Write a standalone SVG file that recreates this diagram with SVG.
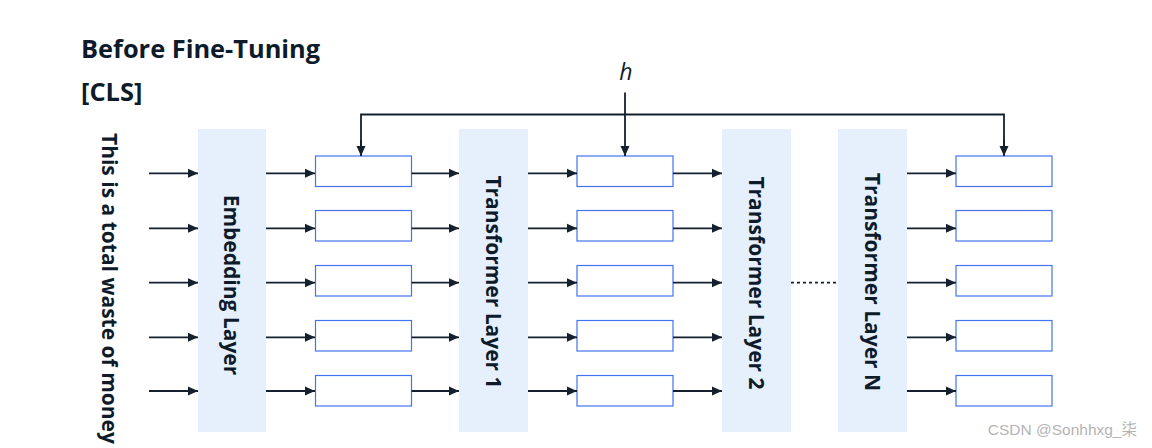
<svg xmlns="http://www.w3.org/2000/svg" width="1152" height="448" viewBox="0 0 1152 448">
<style>
.t{font-family:"Open Sans","Liberation Sans",sans-serif;font-weight:bold;fill:#0d1b2a}
.lbl{font-size:21px}
.layer{fill:#e6f0fd}
.box{fill:#fff;stroke:#4373f2;stroke-width:1.2}
.ln{stroke:#15202e;stroke-width:1.8;fill:none}
.dot{stroke:#15202e;stroke-width:1.8;stroke-dasharray:3 3;fill:none}
</style>
<defs>
<marker id="ah" markerUnits="userSpaceOnUse" markerWidth="10" markerHeight="10" viewBox="0 0 10 10" refX="10" refY="5" orient="auto"><path d="M0,0.5 L10,5 L0,9.5 z" fill="#15202e"/></marker>
</defs>
<rect width="1152" height="448" fill="#fff"/>
<text class="t" x="81" y="58" font-size="25.4">Before Fine-Tuning</text>
<text class="t" x="81" y="101" font-size="25.4">[CLS]</text>
<text class="t lbl" transform="translate(109,133) rotate(90)" y="7">This is a total waste of money</text>
<text x="626" y="80" font-family="'Open Sans','Liberation Sans',sans-serif" font-style="italic" font-size="23" fill="#0d1b2a" text-anchor="middle">h</text>

<g id="embedding"><rect class="layer" x="198" y="129" width="68" height="303"/><text class="t lbl" transform="translate(231,285) rotate(90)" y="7.5" text-anchor="middle">Embedding Layer</text></g>
<g id="tl1"><rect class="layer" x="459" y="129" width="69" height="303"/><text class="t lbl" transform="translate(493,282) rotate(90)" y="7.5" text-anchor="middle">Transformer Layer 1</text></g>
<g id="tl2"><rect class="layer" x="722" y="129" width="69" height="303"/><text class="t lbl" transform="translate(756,283) rotate(90)" y="7.5" text-anchor="middle">Transformer Layer 2</text></g>
<g id="tln"><rect class="layer" x="838" y="129" width="69" height="303"/><text class="t lbl" transform="translate(872,282) rotate(90)" y="7.5" text-anchor="middle">Transformer Layer N</text></g>

<g id="col1">
<rect class="box" x="315.5" y="156" width="96" height="30.5"/>
<rect class="box" x="315.5" y="210.5" width="96" height="30.5"/>
<rect class="box" x="315.5" y="265.5" width="96" height="30.5"/>
<rect class="box" x="315.5" y="320.5" width="96" height="30.5"/>
<rect class="box" x="315.5" y="375.5" width="96" height="30.5"/>
</g>
<g id="col2">
<rect class="box" x="577" y="156" width="96" height="30.5"/>
<rect class="box" x="577" y="210.5" width="96" height="30.5"/>
<rect class="box" x="577" y="265.5" width="96" height="30.5"/>
<rect class="box" x="577" y="320.5" width="96" height="30.5"/>
<rect class="box" x="577" y="375.5" width="96" height="30.5"/>
</g>
<g id="col3">
<rect class="box" x="956" y="156" width="96" height="30.5"/>
<rect class="box" x="956" y="210.5" width="96" height="30.5"/>
<rect class="box" x="956" y="265.5" width="96" height="30.5"/>
<rect class="box" x="956" y="320.5" width="96" height="30.5"/>
<rect class="box" x="956" y="375.5" width="96" height="30.5"/>
</g>

<g id="connectors">
<line class="ln" x1="149" y1="173.3" x2="198" y2="173.3" marker-end="url(#ah)"/>
<line class="ln" x1="149" y1="228.3" x2="198" y2="228.3" marker-end="url(#ah)"/>
<line class="ln" x1="149" y1="282.7" x2="198" y2="282.7" marker-end="url(#ah)"/>
<line class="ln" x1="149" y1="337.3" x2="198" y2="337.3" marker-end="url(#ah)"/>
<line class="ln" x1="149" y1="391" x2="198" y2="391" marker-end="url(#ah)"/>

<line class="ln" x1="266" y1="173.3" x2="315" y2="173.3" marker-end="url(#ah)"/>
<line class="ln" x1="266" y1="228.3" x2="315" y2="228.3" marker-end="url(#ah)"/>
<line class="ln" x1="266" y1="282.7" x2="315" y2="282.7" marker-end="url(#ah)"/>
<line class="ln" x1="266" y1="337.3" x2="315" y2="337.3" marker-end="url(#ah)"/>
<line class="ln" x1="266" y1="391" x2="315" y2="391" marker-end="url(#ah)"/>

<line class="ln" x1="411.5" y1="173.3" x2="459" y2="173.3" marker-end="url(#ah)"/>
<line class="ln" x1="411.5" y1="228.3" x2="459" y2="228.3" marker-end="url(#ah)"/>
<line class="ln" x1="411.5" y1="282.7" x2="459" y2="282.7" marker-end="url(#ah)"/>
<line class="ln" x1="411.5" y1="337.3" x2="459" y2="337.3" marker-end="url(#ah)"/>
<line class="ln" x1="411.5" y1="391" x2="459" y2="391" marker-end="url(#ah)"/>

<line class="ln" x1="528" y1="173.3" x2="577" y2="173.3" marker-end="url(#ah)"/>
<line class="ln" x1="528" y1="228.3" x2="577" y2="228.3" marker-end="url(#ah)"/>
<line class="ln" x1="528" y1="282.7" x2="577" y2="282.7" marker-end="url(#ah)"/>
<line class="ln" x1="528" y1="337.3" x2="577" y2="337.3" marker-end="url(#ah)"/>
<line class="ln" x1="528" y1="391" x2="577" y2="391" marker-end="url(#ah)"/>

<line class="ln" x1="673" y1="173.3" x2="722" y2="173.3" marker-end="url(#ah)"/>
<line class="ln" x1="673" y1="228.3" x2="722" y2="228.3" marker-end="url(#ah)"/>
<line class="ln" x1="673" y1="282.7" x2="722" y2="282.7" marker-end="url(#ah)"/>
<line class="ln" x1="673" y1="337.3" x2="722" y2="337.3" marker-end="url(#ah)"/>
<line class="ln" x1="673" y1="391" x2="722" y2="391" marker-end="url(#ah)"/>

<line class="dot" x1="791" y1="282.7" x2="838" y2="282.7"/>

<line class="ln" x1="907" y1="173.3" x2="956" y2="173.3" marker-end="url(#ah)"/>
<line class="ln" x1="907" y1="228.3" x2="956" y2="228.3" marker-end="url(#ah)"/>
<line class="ln" x1="907" y1="282.7" x2="956" y2="282.7" marker-end="url(#ah)"/>
<line class="ln" x1="907" y1="337.3" x2="956" y2="337.3" marker-end="url(#ah)"/>
<line class="ln" x1="907" y1="391" x2="956" y2="391" marker-end="url(#ah)"/>

<line class="ln" x1="625" y1="92.5" x2="625" y2="156" marker-end="url(#ah)"/>
<path class="ln" d="M361,148V114.5H1004V148"/>
<line class="ln" x1="361" y1="140" x2="361" y2="156" marker-end="url(#ah)"/>
<line class="ln" x1="1004" y1="140" x2="1004" y2="156" marker-end="url(#ah)"/>
</g>
<text x="1137" y="435" font-family="'Liberation Sans','Noto Sans CJK SC',sans-serif" font-size="15.5" fill="#b4b4b4" text-anchor="end">CSDN @Sonhhxg_柒</text>
</svg>
